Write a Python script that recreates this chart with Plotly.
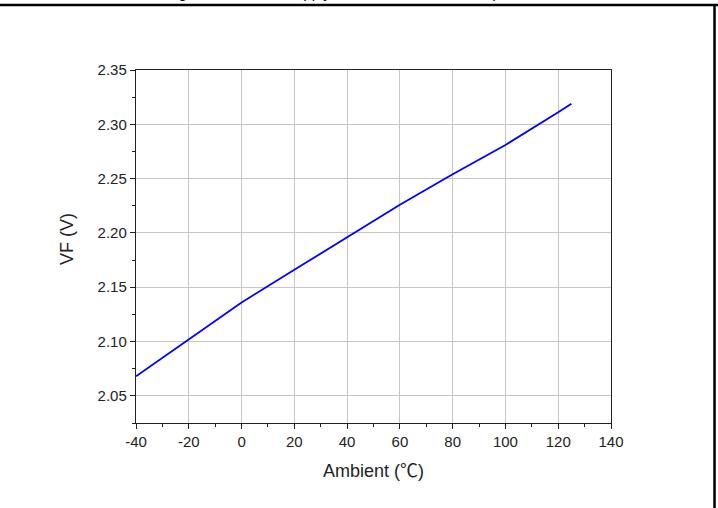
import plotly.graph_objects as go

# Forward voltage vs. ambient temperature
ambient_c = [-40, -20, 0, 20, 40, 60, 80, 100, 120, 125]
vf_volts = [2.068, 2.102, 2.136, 2.166, 2.196, 2.226, 2.254, 2.281, 2.311, 2.319]

x_ticks = [-40, -20, 0, 20, 40, 60, 80, 100, 120, 140]
x_tick_text = [str(v) for v in x_ticks]  # plain hyphen for negatives
y_ticks = [2.05, 2.10, 2.15, 2.20, 2.25, 2.30, 2.35]
y_tick_text = [f"{v:.2f}" for v in y_ticks]

W, H = 718, 508
L, R, T, B = 136, 107, 70, 85

fig = go.Figure()
fig.add_trace(go.Scatter(
    x=ambient_c, y=vf_volts, mode="lines",
    line=dict(color="#0000ff", width=1.8),
    showlegend=False, hoverinfo="x+y",
))

axis_common = dict(
    showline=True, linecolor="#222222", linewidth=1.4, mirror=True,
    ticks="outside", ticklen=5, tickwidth=1.2, tickcolor="#222222",
    showgrid=True, gridcolor="#c6c6c6", gridwidth=1,
    zeroline=False,
    tickfont=dict(family="Arial, Liberation Sans, sans-serif", size=15, color="#222222"),
)

fig.update_xaxes(
    range=[-40, 140], tickvals=x_ticks, ticktext=x_tick_text,
    minor=dict(dtick=10, tick0=0, ticks="outside", ticklen=3, tickcolor="#222222", showgrid=False),
    **axis_common,
)
fig.update_yaxes(
    range=[2.025, 2.35], tickvals=y_ticks, ticktext=y_tick_text,
    minor=dict(dtick=0.025, tick0=2.0, ticks="outside", ticklen=3, tickcolor="#222222", showgrid=False),
    **axis_common,
)

def px_x(p):
    return (p - L) / (W - L - R)

def px_y(p):
    return (H - B - p) / (H - T - B)

title_font = dict(family="Arial, Liberation Sans, sans-serif", size=18, color="#222222")
annotations = [
    dict(text="Ambient (<span style=\"font-family:'Noto Sans CJK SC'\">℃</span>)",
         x=0.5, y=px_y(469), xref="paper", yref="paper",
         xanchor="center", yanchor="middle", showarrow=False, font=title_font),
    dict(text="VF (V)", x=px_x(67), y=px_y(239), xref="paper", yref="paper",
         xanchor="center", yanchor="middle", showarrow=False, textangle=-90, font=title_font),
    dict(text="Forward Voltage Variation vs. Supply Current at Ambient Temperature",
         x=px_x(84), y=px_y(3), xref="paper", yref="paper",
         xanchor="left", yanchor="bottom", showarrow=False,
         font=dict(family="Arial, Liberation Sans, sans-serif", size=15, color="#000000")),
]

# outer frame: top rule and right edge of the page
shapes = [
    dict(type="line", xref="paper", yref="paper", x0=px_x(0), x1=px_x(W), y0=px_y(5), y1=px_y(5),
         line=dict(color="#000000", width=2.5)),
    dict(type="line", xref="paper", yref="paper", x0=px_x(714.5), x1=px_x(714.5), y0=px_y(5), y1=px_y(H),
         line=dict(color="#000000", width=2.5)),
]

fig.update_layout(
    width=W, height=H,
    margin=dict(l=L, r=R, t=T, b=B),
    paper_bgcolor="white", plot_bgcolor="white",
    annotations=annotations, shapes=shapes,
)

fig.write_html("out.html")
